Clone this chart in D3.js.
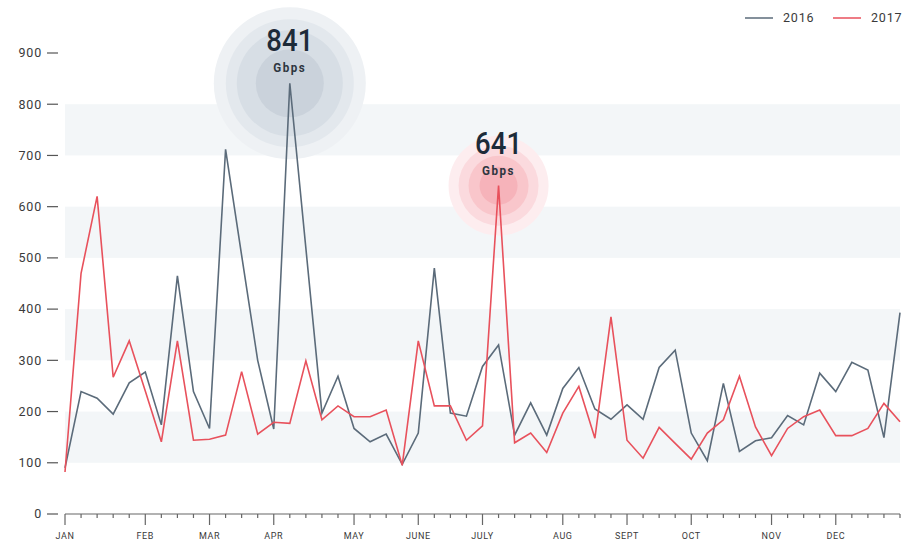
<!DOCTYPE html>
<html><head><meta charset="utf-8">
<script src="https://cdn.jsdelivr.net/npm/d3@7"></script>
<style>
html,body{margin:0;padding:0;background:#fff;}
text{font-family:"Roboto","Liberation Sans",sans-serif;}
</style></head>
<body><svg id="c" width="907" height="543"></svg>
<script>
const months = ["JAN","FEB","MAR","APR","MAY","JUNE","JULY","AUG","SEPT","OCT","NOV","DEC"];
const monthWeek = [0,5,9,13,18,22,26,31,35,39,44,48];
const yTicks = [0,100,200,300,400,500,600,700,800,900];
const seriesNames = ["2016","2017"];
const values2016 = [90,239,226,195,256,277,174,465,239,167,712,505,300,166,841,519,197,269,167,141,156,97,158,480,197,191,288,330,154,217,154,245,286,205,185,213,185,286,320,158,104,255,122,143,149,192,174,275,239,296,281,149,393];
const values2017 = [82,470,620,267,338,240,141,338,144,146,154,278,156,179,177,299,184,211,190,190,203,95,338,211,211,144,172,641,139,158,120,197,249,148,385,144,109,169,138,107,158,184,269,170,114,167,190,203,153,153,167,216,180];
const peakSeries = [0,1];
const peakWeek = [14,27];
const peakUnit = "Gbps";

const colors = ["#5b6b7a","#e8515c"];
const svg = d3.select("#c");
const x = d3.scaleLinear().domain([0,52]).range([65,900]);
const y = d3.scaleLinear().domain([0,900]).range([514,53]);

// bands
const bands = [[100,200],[300,400],[500,600],[700,800]];
svg.append("g").selectAll("rect").data(bands).join("rect")
  .attr("x",x(0)).attr("width",x(52)-x(0))
  .attr("y",d=>y(d[1])).attr("height",d=>y(d[0])-y(d[1]))
  .attr("fill","#f3f6f8");

// y axis
const ya = svg.append("g");
ya.selectAll("text").data(yTicks).join("text")
  .attr("x",42).attr("y",d=>y(d)).attr("dy","0.35em")
  .attr("text-anchor","end").attr("font-size",12.5).attr("letter-spacing",0.8).attr("fill","#3a3a3a").text(d=>d);
ya.selectAll("line").data(yTicks).join("line")
  .attr("x1",47).attr("x2",58).attr("y1",d=>y(d)).attr("y2",d=>y(d))
  .attr("stroke","#555").attr("stroke-width",1.2);

// x axis
const xa = svg.append("g");
xa.append("line").attr("x1",x(0)).attr("x2",x(52)).attr("y1",y(0)).attr("y2",y(0))
  .attr("stroke","#666").attr("stroke-width",1.2);
xa.selectAll("line.minor").data(d3.range(0,53)).join("line").attr("class","minor")
  .attr("x1",d=>x(d)).attr("x2",d=>x(d)).attr("y1",y(0)).attr("y2",d=>monthWeek.includes(d)?y(0)+11:y(0)+4)
  .attr("stroke","#666").attr("stroke-width",1.2);
xa.selectAll("text").data(months).join("text")
  .attr("x",(d,i)=>x(monthWeek[i])).attr("y",539)
  .attr("text-anchor","middle").attr("font-size",9).attr("letter-spacing",0.6).attr("fill","#3a3a3a").text(d=>d);

// bubbles
const allValues = [values2016, values2017];
const bubbleLayers = [
  [{r:76,c:"#eef1f4"},{r:64,c:"#e3e8ed"},{r:53,c:"#d7dee5"},{r:34,c:"#cad2db"}],
  [{r:50,c:"#fdedef"},{r:40,c:"#fbdade"},{r:30,c:"#f9c6cb"},{r:19,c:"#f6b3ba"}]
];
peakSeries.forEach((s,k)=>{
  const w = peakWeek[k], v = allValues[s][w];
  const g = svg.append("g");
  g.selectAll("circle").data(bubbleLayers[s]).join("circle")
    .attr("cx",x(w)).attr("cy",y(v)).attr("r",d=>d.r).attr("fill",d=>d.c);
});

// lines
const line = d3.line().x((d,i)=>x(i)).y(d=>y(d));
allValues.forEach((vals,s)=>{
  svg.append("path").attr("d",line(vals)).attr("fill","none")
    .attr("stroke",colors[s]).attr("stroke-width",1.6).attr("stroke-linejoin","miter");
});

// peak labels
peakSeries.forEach((s,k)=>{
  const w = peakWeek[k], v = allValues[s][w];
  const g = svg.append("g").attr("transform",`translate(${x(w)},${y(v)}) scale(0.86,1)`);
  g.append("text").attr("x",0).attr("y",-32).attr("text-anchor","middle")
    .attr("font-size",32).attr("font-weight",500).attr("fill","#1d2b39").text(v);
  g.append("text").attr("x",0).attr("y",-11).attr("text-anchor","middle")
    .attr("font-size",13.5).attr("font-weight",700).attr("letter-spacing",1.8).attr("fill","#2e3640").text(peakUnit);
});

// legend
const lx = [745,833];
seriesNames.forEach((n,i)=>{
  svg.append("line").attr("x1",lx[i]).attr("x2",lx[i]+28).attr("y1",18).attr("y2",18)
    .attr("stroke",colors[i]).attr("stroke-width",1.5);
  svg.append("text").attr("x",lx[i]+38).attr("y",18).attr("dy","0.35em")
    .attr("font-size",12.5).attr("letter-spacing",0.8).attr("fill","#3a3a3a").text(n);
});
</script></body></html>
